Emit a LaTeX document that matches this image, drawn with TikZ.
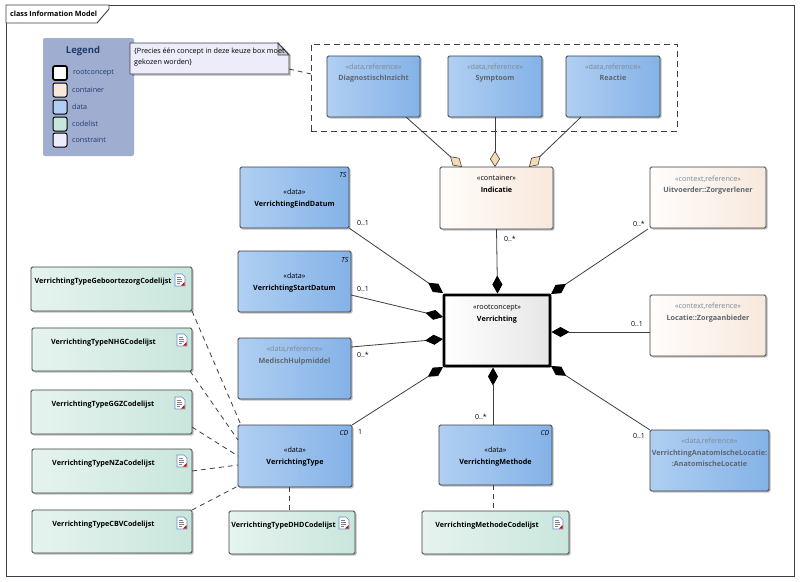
\documentclass[tikz,border=0pt]{standalone}
\usepackage{fontspec}
\setmainfont{Open Sans}
\usetikzlibrary{arrows.meta,shadows,calc}
\definecolor{edgec}{HTML}{3A3F45}
\definecolor{datal}{HTML}{B0CFF2}
\definecolor{datar}{HTML}{84B2E7}
\definecolor{contl}{HTML}{FFFDFB}
\definecolor{contr}{HTML}{F8E8DC}
\definecolor{codel}{HTML}{E6F3EF}
\definecolor{coder}{HTML}{C9E6DC}
\definecolor{rootr}{HTML}{E6E6E6}
\definecolor{notec}{HTML}{ECECFB}
\definecolor{legc}{HTML}{9FADD1}
\definecolor{legt}{HTML}{1F3A6B}
\definecolor{refs}{HTML}{7C8894}
\definecolor{refn}{HTML}{5E6670}
\definecolor{aggc}{HTML}{F5DCB0}
\tikzset{
 umlbox/.style={draw=edgec,line width=.9pt,rounded corners=1.5pt,inner sep=0pt,outer sep=0pt,anchor=north west,
   drop shadow={shadow xshift=1.5pt,shadow yshift=-1.5pt,opacity=.25,fill=black}},
 databox/.style={umlbox,left color=datal,right color=datar},
 contbox/.style={umlbox,left color=contl,right color=contr},
 codebox/.style={umlbox,left color=codel,right color=coder},
 rootbox/.style={umlbox,line width=2.8pt,draw=black,left color=white,right color=rootr,rounded corners=.5pt},
 assoc/.style={draw=edgec,line width=.8pt},
 compo/.style={assoc,-{Diamond[length=18pt,width=10pt,fill=black,color=black]}},
 aggr/.style={assoc,-{Diamond[length=16pt,width=10pt,fill=aggc,color=edgec,line width=.6pt]}},
 deplink/.style={draw=edgec,line width=.8pt,dash pattern=on 5pt off 4pt},
 mult/.style={inner sep=0pt,font=\fontsize{7}{8}\selectfont},
 tagtext/.style={inner sep=0pt,font=\fontsize{7}{8}\selectfont\itshape},
 legbox/.style={draw=black,line width=1pt,rounded corners=2pt,minimum size=14pt,inner sep=0pt,outer sep=0pt,anchor=north west},
 legtext/.style={inner sep=0pt,anchor=west,text=legt,font=\fontsize{7.2}{8}\selectfont},
}
\newcommand{\ubox}[8]{% style,name,x1,y1,x2,y2,baseline offset,text
 \pgfmathsetlengthmacro{\uw}{(#5-#3)*1pt}\pgfmathsetlengthmacro{\uh}{(#6-#4)*1pt}
 \node[#1] (#2) at (#3,#4) {\parbox[t][\uh][t]{\uw}{\centering\fontsize{7.2}{11.5}\selectfont\rule{0pt}{#7pt}#8}};}
\newcommand{\refs}[1]{\textcolor{refs}{#1}}
\newcommand{\refn}[1]{\textcolor{refn}{\bfseries #1}}
\newcommand{\cod}[1]{\hspace*{-17pt}\textbf{#1}}
\newcommand{\docicon}[2]{%
 \begin{scope}[shift={(#1)},shift={(#2)}]
  \fill[white,draw={rgb,255:red,110;green,135;blue,205},line width=.7pt] (0,0)--(7,0)--(10,3)--(10,12)--(0,12)--cycle;
  \draw[gray,line width=.6pt] (2,3)--(6,3) (2,5)--(7,5) (2,7)--(7,7) (2,9)--(5,9);
  \fill[red!85!black] (9.5,8)--(9.5,11.5)--(6,11.5)--cycle;
 \end{scope}}
\begin{document}
\begin{tikzpicture}[x=1pt,y=-1pt]
\useasboundingbox (0,0) rectangle (800,581);
\fill[white] (0,0) rectangle (800,581);
% frame
\draw[edgec,line width=.9pt] (6,5) rectangle (794,576);
\draw[edgec,line width=.9pt,fill=white] (6,5)--(109,5)--(109,9)--(97,23)--(6,23)--cycle;
\node[inner sep=0pt,anchor=west,font=\fontsize{7.2}{8}\selectfont\bfseries] (frametitle) at (10,14) {class Information Model};
% legend
\fill[legc,rounded corners=2pt] (43,38) rectangle (134,156);
\node[inner sep=0pt,text=legt,font=\fontsize{9.5}{10}\selectfont\bfseries] (legendtitle) at (83,51) {Legend};
\node[legbox,line width=1.7pt,fill=white] (lroot) at (53,66) {};
\node[legbox,fill=contr] (lcont) at (53,83) {};
\node[legbox,fill=datal] (ldata) at (53,100) {};
\node[legbox,fill=coder] (lcode) at (53,117) {};
\node[legbox,fill=notec] (lcons) at (53,133) {};
\node[legtext] (troot) at (73,73) {rootconcept};
\node[legtext] (tcont) at (72,90) {container};
\node[legtext] (tdata) at (72,107) {data};
\node[legtext] (tcode) at (72,124) {codelist};
\node[legtext] (tcons) at (72,140) {constraint};
% constraint group
\node[draw=edgec,line width=.9pt,dash pattern=on 6pt off 4pt,inner sep=0pt,outer sep=0pt,anchor=north west,minimum width=366pt,minimum height=87pt] (choice) at (311,44) {};
% note
\fill[black,opacity=.2] (132,45)--(291,45)--(291,76)--(132,76)--cycle;
\draw[edgec,line width=.9pt,fill=notec] (130,43)--(278,43)--(289,55)--(289,74)--(130,74)--cycle;
\node[inner sep=0pt,outer sep=0pt,anchor=north west,minimum width=159pt,minimum height=31pt] (note) at (130,43) {};
\fill[white] (278,42)--(291,42)--(291,55)--cycle;
\draw[edgec,line width=.9pt,fill=notec!70!gray] (278,43)--(278,55)--(289,55)--cycle;
\node[inner sep=0pt,anchor=north west,align=left,font=\fontsize{7.2}{11}\selectfont] (notetext) at (134,48) {\{Precies één concept in deze keuze box moet\\gekozen worden\}};
\draw[deplink] ([yshift=5pt]note.south east) -- ([yshift=13.5pt]choice.west);
% boxes
\ubox{databox}{diag}{327}{56}{420}{117}{13}{\refs{«data,reference»}\\\refn{DiagnostischInzicht}}
\ubox{databox}{symp}{448}{56}{542}{117}{13}{\refs{«data,reference»}\\\refn{Symptoom}}
\ubox{databox}{reac}{566}{56}{660}{117}{13}{\refs{«data,reference»}\\\refn{Reactie}}
\ubox{contbox}{indi}{440}{167}{553}{229}{13.5}{«container»\\\textbf{Indicatie}}
\ubox{contbox}{uitv}{650}{167}{766}{228}{14}{\refs{«context,reference»}\\\refn{Uitvoerder::Zorgverlener}}
\ubox{databox}{eind}{240}{167}{349}{228}{27.5}{«data»\\\textbf{VerrichtingEindDatum}}
\ubox{databox}{star}{238}{251}{351}{312}{27.5}{«data»\\\textbf{VerrichtingStartDatum}}
\ubox{databox}{medi}{238}{338}{351}{399}{13.5}{\refs{«data,reference»}\\\refn{MedischHulpmiddel}}
\ubox{rootbox}{verr}{444}{295}{550}{366}{14.5}{«rootconcept»\\\textbf{Verrichting}}
\ubox{contbox}{loca}{650}{295}{766}{356}{13.5}{\refs{«context,reference»}\\\refn{Locatie::Zorgaanbieder}}
\ubox{databox}{anat}{650}{430}{769}{491}{13.5}{\refs{«data,reference»}\\\refn{VerrichtingAnatomischeLocatie:}\\\refn{:AnatomischeLocatie}}
\ubox{databox}{type}{238}{425}{352}{487}{27.5}{«data»\\\textbf{VerrichtingType}}
\ubox{databox}{meth}{439}{425}{552}{485}{27.5}{«data»\\\textbf{VerrichtingMethode}}
\ubox{codebox}{dhdc}{229}{511}{355}{554}{16}{\cod{VerrichtingTypeDHDCodelijst}}
\ubox{codebox}{mcod}{422}{511}{569}{554}{16}{\cod{VerrichtingMethodeCodelijst}}
\ubox{codebox}{gebo}{31}{267}{192}{311}{16.5}{\cod{VerrichtingTypeGeboortezorgCodelijst}}
\ubox{codebox}{nhgc}{32}{328}{192}{371}{16.5}{\cod{VerrichtingTypeNHGCodelijst}}
\ubox{codebox}{ggzc}{31}{390}{192}{434}{16.5}{\cod{VerrichtingTypeGGZCodelijst}}
\ubox{codebox}{nzac}{32}{449}{192}{493}{16.5}{\cod{VerrichtingTypeNZaCodelijst}}
\ubox{codebox}{cbvc}{32}{510}{192}{553}{16.5}{\cod{VerrichtingTypeCBVCodelijst}}
% icons
\docicon{gebo.north east}{-17,7}
\docicon{nhgc.north east}{-15,6}
\docicon{ggzc.north east}{-17,7}
\docicon{nzac.north east}{-15,6}
\docicon{cbvc.north east}{-15,7}
\docicon{dhdc.north east}{-16,6}
\docicon{mcod.north east}{-16,6}
% tags
\node[tagtext] (tagts1) at (343,175) {TS};
\node[tagtext] (tagts2) at (345,260) {TS};
\node[tagtext] (tagcd1) at (344,433) {CD};
\node[tagtext] (tagcd2) at (545,433) {CD};
% aggregation
\draw[aggr] ([xshift=-14pt]diag.south east) -- ([xshift=22pt]indi.north west);
\draw[aggr] (symp.south) -- ([xshift=-1.5pt]indi.north);
\draw[aggr] ([xshift=15pt]reac.south west) -- ([xshift=-24pt]indi.north east);
% composition
\draw[compo] (eind.south east) -- ([shift={(-1,-2)}]verr.north west);
\draw[compo] ([yshift=17pt]star.south east) -- ([shift={(-1,22)}]verr.north west);
\draw[compo] ([yshift=-9pt]medi.north east) -- ([shift={(-1,44)}]verr.north west);
\draw[compo] (type.north east) -- ([shift={(-1,1)}]verr.south west);
\draw[compo] (indi.south) -- ([shift={(0.5,-1.5)}]verr.north);
\draw[compo] ([xshift=-2.5pt]meth.north) -- ([shift={(-4,1.5)}]verr.south);
\draw[compo] ([shift={(-2,1)}]uitv.south west) -- ([shift={(1,-1)}]verr.north east);
\draw[compo] ([yshift=-37pt]loca.north west) -- ([shift={(1.5,37)}]verr.north east);
\draw[compo] (anat.north west) -- ([shift={(1,0)}]verr.south east);
% dependencies
\draw[deplink] (gebo.south east) -- ([xshift=3pt]type.north west);
\draw[deplink] ([xshift=-2pt]nhgc.south east) -- ([yshift=-15pt]type.north west);
\draw[deplink] ([yshift=7pt]ggzc.south east) -- ([yshift=-31pt]type.north west);
\draw[deplink] ([yshift=22pt]nzac.south east) -- ([yshift=-40pt]type.north west);
\draw[deplink] (cbvc.north east) -- ([yshift=-61pt]type.north west);
\draw[deplink] ([xshift=-6pt]type.south) -- ([xshift=-3pt]dhdc.north);
\draw[deplink] ([xshift=-2.5pt]meth.south) -- ([xshift=-2.5pt]mcod.north);
% multiplicities
\node[mult] (m1) at (363,223) {0..1};
\node[mult] (m2) at (363,289) {0..1};
\node[mult] (m3) at (363,355) {0..*};
\node[mult] (m4) at (510,239) {0..*};
\node[mult] (m5) at (639,224) {0..*};
\node[mult] (m6) at (637,324) {0..1};
\node[mult] (m7) at (639,436) {0..1};
\node[mult] (m8) at (360,432) {1};
\node[mult] (m9) at (481,417) {0..*};
\end{tikzpicture}
\end{document}
